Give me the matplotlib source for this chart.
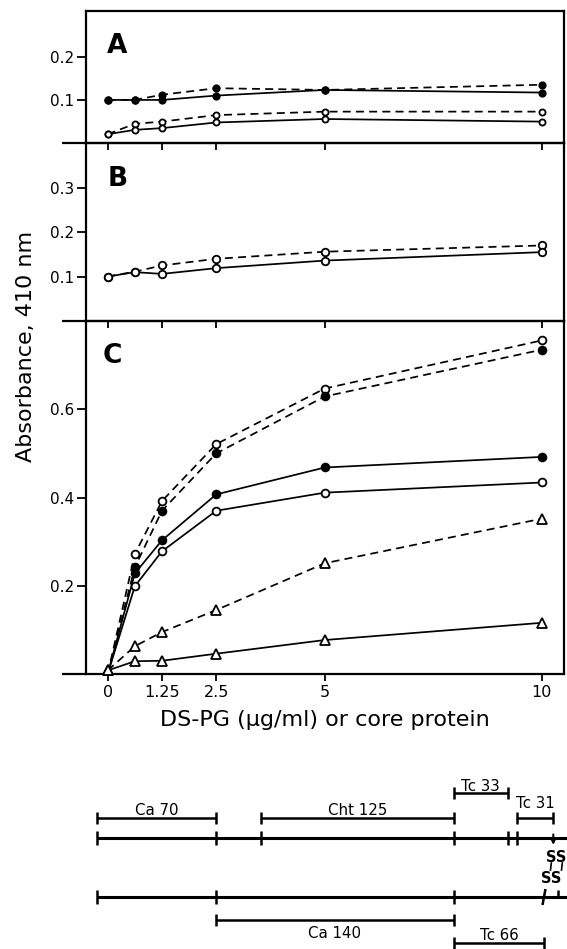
import matplotlib
matplotlib.use("Agg")
import matplotlib.pyplot as plt

# ---------------- data ----------------
x_vals = [0, 0.625, 1.25, 2.5, 5, 10]
x_ticks = [0, 1.25, 2.5, 5, 10]
x_tick_labels = ["0", "1.25", "2.5", "5", "10"]

# Panel A
a_filled_dashed = [0.100, 0.100, 0.112, 0.127, 0.123, 0.135]
a_filled_solid = [0.100, 0.100, 0.100, 0.110, 0.123, 0.117]
a_open_dashed = [0.021, 0.045, 0.050, 0.065, 0.073, 0.073]
a_open_solid = [0.021, 0.031, 0.035, 0.048, 0.056, 0.050]
a_yticks = [0.1, 0.2]

# Panel B
b_open_dashed = [0.100, 0.111, 0.125, 0.140, 0.156, 0.170]
b_open_solid = [0.100, 0.110, 0.106, 0.119, 0.136, 0.155]
b_yticks = [0.1, 0.2, 0.3]

# Panel C
c_open_dashed = [0.0, 0.272, 0.392, 0.521, 0.647, 0.756]
c_filled_dashed = [0.0, 0.242, 0.370, 0.500, 0.629, 0.735]
c_filled_solid = [0.0, 0.228, 0.303, 0.407, 0.468, 0.492]
c_open_solid = [0.0, 0.199, 0.278, 0.370, 0.411, 0.434]
c_tri_dashed = [0.008, 0.063, 0.095, 0.145, 0.251, 0.352]
c_tri_solid = [0.008, 0.029, 0.030, 0.046, 0.077, 0.116]
c_yticks = [0.2, 0.4, 0.6]

# Schematic of the core protein (positions along the chain, arbitrary units)
frag_names = ["Ca 70", "Cht 125", "Tc 33", "Tc 31", "Ca 140", "Tc 66"]
frag_start = [0.0, 163.8, 357.0, 419.9, 119.2, 357.0]
frag_end = [119.2, 357.0, 410.9, 456.5, 357.0, 447.2]
chain1_sites = [0.0, 119.2, 163.8, 357.0, 410.9, 419.9]
chain2_sites = [0.0, 119.2, 357.0]

# ---------------- figure ----------------
W, H = 567, 949
fig = plt.figure(figsize=(W / 100, H / 100), dpi=100)
plt.rcParams['font.family'] = ['DejaVu Sans']

left = 85.7 / W
width = (564 - 85.7) / W


def fy(px):
    return 1 - px / H


ax_a = fig.add_axes([left, fy(143.3), width, (143.3 - 11) / H])
ax_b = fig.add_axes([left, fy(321), width, (321 - 143.3) / H])
ax_c = fig.add_axes([left, fy(674), width, (674 - 321) / H])

DASH = (4.6, 3.0)


def series(ax, y, filled, dashed, marker='o', ms=5.6, skip_first=False):
    ln, = ax.plot(x_vals, y, color='black', lw=1.25, zorder=2, clip_on=False)
    if dashed:
        ln.set_dashes(DASH)
    xs = x_vals[1:] if skip_first else x_vals
    ys = y[1:] if skip_first else y
    ax.plot(xs, ys, ls='none', marker=marker, ms=ms, mew=1.3,
            mfc='black' if filled else 'white', mec='black',
            zorder=3, clip_on=False)


def setup(ax, ymax, yticks, letter, lx, ly, show_x=False):
    ax.set_xlim(-0.507, 10.51)
    ax.set_ylim(0, ymax)
    ax.set_facecolor('none')
    for s in ax.spines.values():
        s.set_linewidth(1.6)
    ax.set_xticks(x_ticks)
    ax.set_xticklabels(x_tick_labels)
    ax.set_yticks(yticks)
    ax.set_yticklabels([f"{t:.1f}" for t in yticks])
    ax.tick_params(axis='x', direction='out', length=5, width=1.3,
                   labelbottom=show_x, labelsize=11.5, pad=3)
    ax.tick_params(axis='y', direction='out', length=6.5, width=1.3,
                   labelsize=11, pad=2)
    ax.plot([-0.05, 0], [0, 0], transform=ax.transAxes, color='black',
            lw=1.6, clip_on=False, solid_capstyle='butt')
    ax.text(lx, ly, letter, transform=ax.transAxes, fontsize=19,
            fontweight='bold', va='center', ha='left')


# Panel A
series(ax_a, a_filled_dashed, True, True, ms=4.6)
series(ax_a, a_filled_solid, True, False, ms=4.6)
series(ax_a, a_open_dashed, False, True, ms=4.4)
series(ax_a, a_open_solid, False, False, ms=4.4)
setup(ax_a, 0.305, a_yticks, "A", 0.045, 0.735)

# Panel B
series(ax_b, b_open_dashed, False, True, ms=5.4)
series(ax_b, b_open_solid, False, False, ms=5.4)
setup(ax_b, 0.4, b_yticks, "B", 0.045, 0.80)

# Panel C
series(ax_c, c_open_dashed, False, True, skip_first=True)
series(ax_c, c_filled_dashed, True, True, skip_first=True)
series(ax_c, c_filled_solid, True, False, skip_first=True)
series(ax_c, c_open_solid, False, False, skip_first=True)
series(ax_c, c_tri_dashed, False, True, marker='^', ms=7.5)
series(ax_c, c_tri_solid, False, False, marker='^', ms=7.5)
setup(ax_c, 0.8, c_yticks, "C", 0.036, 0.90, show_x=True)
ax_c.set_xlabel("DS-PG (µg/ml) or core protein", fontsize=16, labelpad=7)

fig.text(26 / W, fy(346), "Absorbance, 410 nm", rotation=90, fontsize=16,
         ha='center', va='center')

# ---------------- schematic ----------------
dg = fig.add_axes([0, 0, 1, (H - 760) / H])
dg.set_xlim(-96.8, W - 96.8)
dg.set_ylim(H, 760)
dg.axis('off')

LINE1, LINE2 = 837.7, 897.3
bracket_y = [818, 818, 793, 818, 920, 942.7]
label_y = [815, 815, 791, 808, 926, 940]
label_va = ['baseline', 'baseline', 'baseline', 'baseline', 'top', 'baseline']

kw_main = dict(color='black', lw=2.2, solid_capstyle='butt', clip_on=False)
kw_br = dict(color='black', lw=1.8, solid_capstyle='butt', clip_on=False)

dg.plot([chain1_sites[0], 480], [LINE1, LINE1], **kw_main)
dg.plot([chain2_sites[0], 480], [LINE2, LINE2], **kw_main)
for s in chain1_sites:
    dg.plot([s, s], [LINE1 - 7, LINE1 + 7], **kw_br)
for s in chain2_sites:
    dg.plot([s, s], [LINE2 - 7, LINE2 + 7], **kw_br)

for name, a, b, by, ly, va in zip(frag_names, frag_start, frag_end,
                                  bracket_y, label_y, label_va):
    dg.plot([a, b], [by, by], **kw_br)
    dg.plot([a, a], [by - 6, by + 6], **kw_br)
    dg.plot([b, b], [by - 6, by + 6], **kw_br)
    dg.text((a + b) / 2, ly, name, fontsize=10.8, ha='center', va=va)

# disulfide region
end1 = frag_end[3]
dg.annotate("", xy=(end1, LINE1 + 10), xytext=(end1, LINE1 - 6),
            arrowprops=dict(arrowstyle='-|>', color='black', lw=1.5,
                            mutation_scale=8), annotation_clip=False)
dg.text(end1 - 7, 857, "SS", fontsize=10.5, fontweight='bold', ha='left',
        va='center')
dg.text(frag_end[5] - 3, 878, "SS", fontsize=10.5, fontweight='bold',
        ha='left', va='center')
for xx in (end1 - 2, end1 + 9):
    dg.plot([xx, xx - 0.8], [863, 870], color='black', lw=1.2)
dg.plot([frag_end[5] + 1.5, frag_end[5] - 1.5], [889, 905], **kw_br)
dg.plot([frag_end[5] + 14, frag_end[5] + 14], [890, LINE2], **kw_br)

fig.savefig("out.png", dpi=100)
